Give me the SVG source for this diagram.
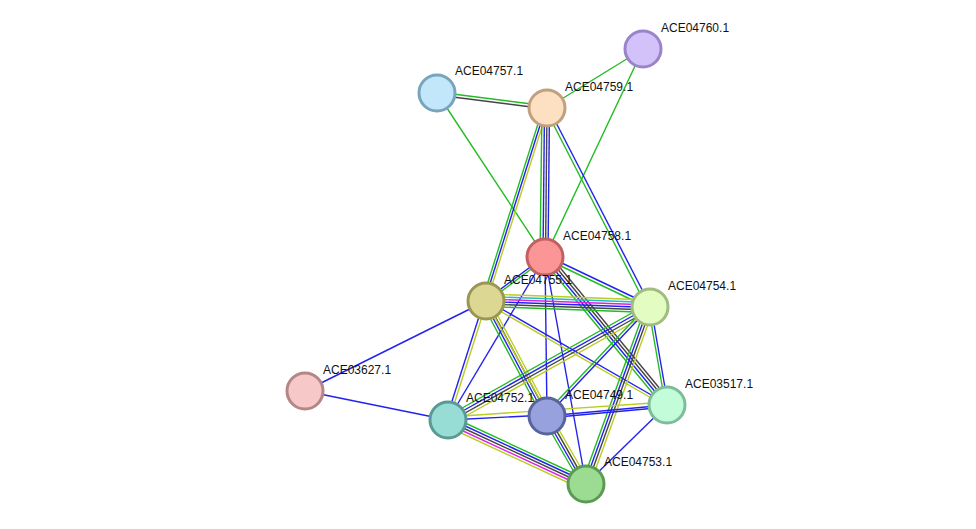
<svg xmlns="http://www.w3.org/2000/svg" width="976" height="529" viewBox="0 0 976 529">
<style>
line{stroke-width:1.4;fill:none}
.g{stroke:#22bb22}.b{stroke:#2222ee}.k{stroke:#444}.y{stroke:#bbcc22}.m{stroke:#dd22dd}.c{stroke:#22bbcc}
circle{stroke-width:3}
text{font-family:"Liberation Sans",Arial,sans-serif;font-size:12px;fill:#111}
</style>
<rect width="976" height="529" fill="#fff"/>
<g id="edges">
<line class="g" x1="437" y1="92" x2="547" y2="106"/><line class="k" x1="437" y1="95" x2="547" y2="109"/>
<line class="g" x1="547" y1="108" x2="643" y2="49"/>
<line class="g" x1="437" y1="93" x2="545" y2="257"/>
<line class="g" x1="643" y1="49" x2="545" y2="257"/>
<line class="g" x1="543" y1="108" x2="482" y2="301"/><line class="b" x1="545.5" y1="108" x2="484.5" y2="301"/><line class="y" x1="548" y1="108" x2="487" y2="301"/>
<line class="g" x1="542" y1="108" x2="540" y2="257"/><line class="b" x1="544.5" y1="108" x2="543" y2="257"/><line class="k" x1="547" y1="108" x2="545.5" y2="257"/><line class="b" x1="549.5" y1="108" x2="548" y2="257"/>
<line class="g" x1="546" y1="110" x2="648" y2="309"/><line class="b" x1="548.5" y1="108" x2="651" y2="307"/>
<line class="b" x1="545" y1="256" x2="486" y2="300"/><line class="g" x1="546" y1="258" x2="487" y2="302"/>
<line class="b" x1="545" y1="255" x2="650" y2="305"/><line class="g" x1="544" y1="258" x2="649" y2="308"/>
<line class="b" x1="545" y1="257" x2="547" y2="416"/>
<line class="b" x1="545" y1="257" x2="448" y2="420"/>
<line class="b" x1="545" y1="257" x2="586" y2="484"/>
<line class="g" x1="542" y1="259" x2="664" y2="407"/><line class="b" x1="544" y1="257" x2="666" y2="405"/><line class="k" x1="546" y1="255" x2="668" y2="403"/><line class="k" x1="548" y1="253" x2="670" y2="401"/>
<line class="y" x1="486" y1="294" x2="650" y2="300"/><line class="c" x1="486" y1="296.5" x2="650" y2="302.5"/><line class="m" x1="486" y1="299" x2="650" y2="305"/><line class="b" x1="486" y1="301.5" x2="650" y2="307.5"/><line class="k" x1="486" y1="304" x2="650" y2="310"/><line class="g" x1="486" y1="306.5" x2="650" y2="312.5"/>
<line class="b" x1="486" y1="301" x2="305" y2="391"/>
<line class="b" x1="484" y1="301" x2="446" y2="420"/><line class="y" x1="487" y1="301" x2="449" y2="420"/>
<line class="g" x1="482" y1="303" x2="543" y2="418"/><line class="b" x1="484.5" y1="302" x2="545.5" y2="417"/><line class="k" x1="487" y1="301" x2="548" y2="416"/><line class="y" x1="489.5" y1="300" x2="550.5" y2="415"/>
<line class="y" x1="486" y1="301" x2="586" y2="484"/>
<line class="b" x1="486" y1="300" x2="667" y2="404"/><line class="y" x1="486" y1="303" x2="667" y2="407"/>
<line class="g" x1="648" y1="304" x2="446" y2="417"/><line class="b" x1="649.5" y1="306.5" x2="447.5" y2="419.5"/><line class="k" x1="651" y1="309" x2="449" y2="422"/><line class="y" x1="652.5" y1="311.5" x2="450.5" y2="424.5"/>
<line class="b" x1="650" y1="307" x2="547" y2="416"/><line class="g" x1="648" y1="305" x2="545" y2="414"/>
<line class="g" x1="646" y1="306" x2="582" y2="483"/><line class="b" x1="648.5" y1="307" x2="584.5" y2="484"/><line class="k" x1="651" y1="308" x2="587" y2="485"/><line class="y" x1="653.5" y1="309" x2="589.5" y2="486"/>
<line class="b" x1="651" y1="307" x2="668" y2="405"/><line class="g" x1="648.5" y1="307.5" x2="665.5" y2="405.5"/>
<line class="y" x1="448" y1="417" x2="667" y2="402"/><line class="b" x1="448" y1="420" x2="547" y2="415"/><line class="b" x1="547" y1="416" x2="667" y2="405"/><line class="b" x1="547" y1="418" x2="667" y2="407"/>
<line class="g" x1="450" y1="416" x2="588" y2="480"/><line class="b" x1="449" y1="418.5" x2="587" y2="482.5"/><line class="k" x1="448" y1="421" x2="586" y2="485"/><line class="m" x1="447" y1="423.5" x2="585" y2="487.5"/><line class="y" x1="446" y1="426" x2="584" y2="490"/>
<line class="g" x1="543" y1="418" x2="582" y2="486"/><line class="b" x1="545.5" y1="417" x2="584.5" y2="485"/><line class="k" x1="548" y1="416" x2="587" y2="484"/><line class="y" x1="550.5" y1="415" x2="589.5" y2="483"/>
<line class="b" x1="667" y1="405" x2="586" y2="484"/>
<line class="b" x1="305" y1="391" x2="448" y2="420"/>
</g>
<g id="ACE04760.1"><circle cx="643" cy="49" r="18" fill="#d3c2fa" stroke="#9a83c9"/><text x="661" y="32">ACE04760.1</text></g>
<g id="ACE04757.1"><circle cx="437" cy="93" r="18" fill="#c2e7fb" stroke="#78a5bd"/><text x="455" y="75">ACE04757.1</text></g>
<g id="ACE04759.1"><circle cx="547" cy="108" r="18" fill="#fde0c2" stroke="#c0a07e"/><text x="565" y="91">ACE04759.1</text></g>
<g id="ACE04758.1"><circle cx="545" cy="257" r="18" fill="#fc9595" stroke="#c06060"/><text x="563" y="240">ACE04758.1</text></g>
<g id="ACE04755.1"><circle cx="486" cy="301" r="18" fill="#dcd893" stroke="#9a9755"/><text x="504" y="284">ACE04755.1</text></g>
<g id="ACE04754.1"><circle cx="650" cy="307" r="18" fill="#e2fcc2" stroke="#9fbd7e"/><text x="668" y="290">ACE04754.1</text></g>
<g id="ACE03627.1"><circle cx="305" cy="391" r="18" fill="#f7c8c8" stroke="#b58686"/><text x="323" y="374">ACE03627.1</text></g>
<g id="ACE04752.1"><circle cx="448" cy="420" r="18" fill="#97ddd5" stroke="#5a9a94"/><text x="466" y="402">ACE04752.1</text></g>
<g id="ACE04749.1"><circle cx="547" cy="416" r="18" fill="#96a1dd" stroke="#5a649c"/><text x="565" y="399">ACE04749.1</text></g>
<g id="ACE03517.1"><circle cx="667" cy="405" r="18" fill="#c2fcd8" stroke="#7ebd98"/><text x="685" y="388">ACE03517.1</text></g>
<g id="ACE04753.1"><circle cx="586" cy="484" r="18" fill="#9bdc92" stroke="#5a9a52"/><text x="604" y="466">ACE04753.1</text></g>
</svg>
